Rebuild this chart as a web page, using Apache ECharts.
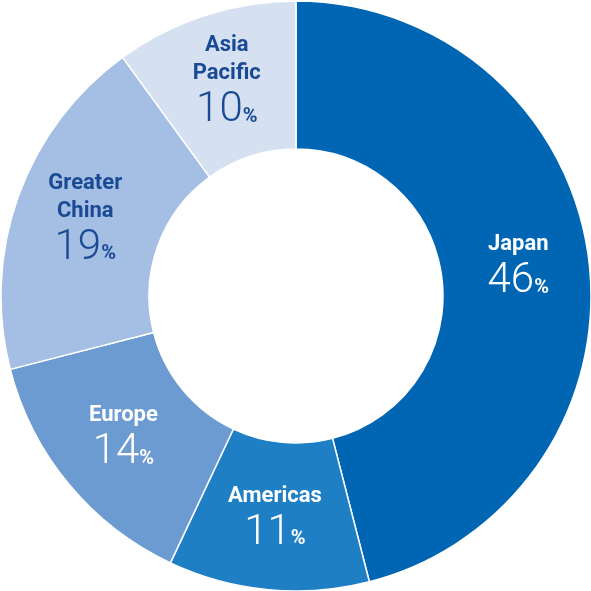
<!DOCTYPE html>
<html>
<head>
<meta charset="utf-8">
<script src="https://cdn.jsdelivr.net/npm/echarts@6/dist/echarts.min.js"></script>
<style>html,body{margin:0;padding:0;background:#fff}#chart{width:591px;height:591px}</style>
</head>
<body>
<div id="chart"></div>
<script>
// regions, clockwise from top
var regions = ['Japan', 'Americas', 'Europe', 'Greater\nChina', 'Asia\nPacific'];
var shares = [46, 11, 14, 19, 10];
var colors = ['#0066b3', '#1f7fc5', '#6c9bd2', '#a5bee3', '#d5e0f1'];
var textColors = ['#ffffff', '#ffffff', '#ffffff', '#1a4a94', '#1a4a94'];

var data = regions.map(function (r, i) {
    return {
        name: r,
        value: shares[i],
        itemStyle: { color: colors[i] },
        label: {
            rich: {
                n: { fontSize: 22, fontWeight: 'bold', color: textColors[i], lineHeight: 28, fontFamily: 'Roboto' },
                v: { fontSize: 42, fontWeight: 300, color: textColors[i], lineHeight: 46, fontFamily: 'Roboto' },
                p: { fontSize: 20, fontWeight: 'bold', color: textColors[i], fontFamily: 'Roboto', padding: [12, 0, 0, 0] }
            }
        }
    };
});

var myChart = echarts.init(document.getElementById('chart'));
myChart.setOption({
    animation: false,
    series: [{
        type: 'pie',
        center: [296, 296],
        radius: [147, 295],
        startAngle: 90,
        clockwise: true,
        itemStyle: { borderColor: '#ffffff', borderWidth: 1.5 },
        label: {
            show: true,
            position: 'inside',
            formatter: function (p) {
                var name = p.name.split('\n').map(function (s) { return '{n|' + s + '}'; }).join('\n');
                return name + '\n{v|' + p.value + '}{p|%}';
            }
        },
        labelLine: { show: false },
        data: data
    }]
});
</script>
</body>
</html>
